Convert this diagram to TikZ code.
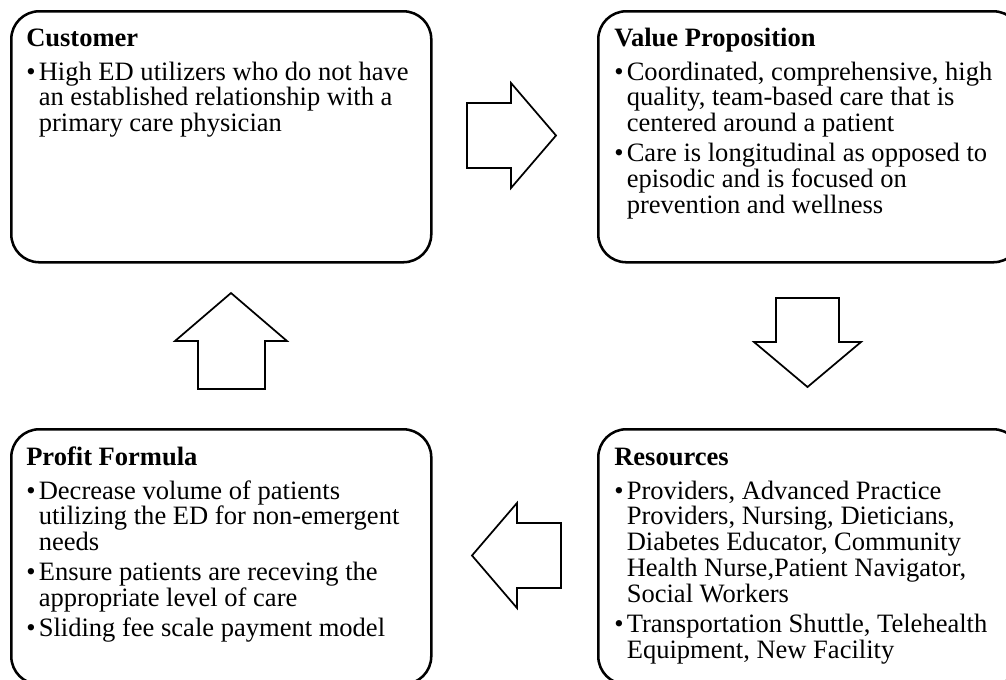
\documentclass[tikz,border=0pt]{standalone}
\usepackage{fontspec}
\setmainfont{Liberation Serif}
\newcommand\bul{\makebox[9.4pt][l]{•}}
\newcommand\ind{\hspace*{9.4pt}}
\newcommand\txtsetup{\fontsize{19.9}{19.35}\selectfont\raggedright\parindent0pt}
\tikzset{
  bmcbox/.style={draw=black, line width=1.9pt, rounded corners=21pt, fill=white},
  blockarrow/.style={draw=black, line width=1.3pt, fill=white, line join=miter},
  bmctext/.style={inner sep=0pt, anchor=base west, text=black}
}
\begin{document}
\begin{tikzpicture}[x=0.75pt, y=-0.75pt]
\useasboundingbox (0,0) rectangle (1006,679);
\fill[white] (0,0) rectangle (1006,679);
\clip (0,0) rectangle (1006,679);
% boxes
\node[bmcbox, anchor=north west, minimum width=315pt, minimum height=188.25pt] (cust) at (10,10) {};
\node[bmcbox, anchor=north west, minimum width=317.25pt, minimum height=188.25pt] (value) at (597,10) {};
\node[bmcbox, anchor=north west, minimum width=315pt, minimum height=191.25pt] (profit) at (10,428) {};
\node[bmcbox, anchor=north west, minimum width=317.25pt, minimum height=191.25pt] (res) at (597,428) {};
% block arrows
\draw[blockarrow] (467,103) -- (511,103) -- (511,83) -- (556,135.5) -- (511,188) -- (511,168) -- (467,168) -- cycle;
\draw[blockarrow] (776,298) -- (839,298) -- (839,342) -- (861,342) -- (807.5,387) -- (754,342) -- (776,342) -- cycle;
\draw[blockarrow] (561,523) -- (517,523) -- (517,503) -- (472,555.5) -- (517,608) -- (517,588) -- (561,588) -- cycle;
\draw[blockarrow] (198,389) -- (198,341) -- (175,341) -- (231,293) -- (287,341) -- (265,341) -- (265,389) -- cycle;
% texts
\node[bmctext] (custt) at (26,46) {\parbox[t]{330pt}{\txtsetup
\textbf{Customer}\\[6.15pt]
\bul High ED utilizers who do not have\\
\ind an established relationship with a\\
\ind primary care physician}};
\node[bmctext] (valuet) at (614,46) {\parbox[t]{330pt}{\txtsetup
\textbf{Value Proposition}\\[6.15pt]
\bul Coordinated, comprehensive, high\\
\ind quality, team-based care that is\\
\ind centered around a patient\\[3.15pt]
\bul Care is longitudinal as opposed to\\
\ind episodic and is focused on\\
\ind prevention and wellness}};
\node[bmctext] (profitt) at (26,465) {\parbox[t]{330pt}{\txtsetup
\textbf{Profit Formula}\\[6.15pt]
\bul Decrease volume of patients\\
\ind utilizing the ED for non-emergent\\
\ind needs\\[3.15pt]
\bul Ensure patients are receving the\\
\ind appropriate level of care\\[3.15pt]
\bul Sliding fee scale payment model}};
\node[bmctext] (rest) at (614,465) {\parbox[t]{330pt}{\txtsetup
\textbf{Resources}\\[6.15pt]
\bul Providers, Advanced Practice\\
\ind Providers, Nursing, Dieticians,\\
\ind Diabetes Educator, Community\\
\ind Health Nurse,Patient Navigator,\\
\ind Social Workers\\[3.15pt]
\bul Transportation Shuttle, Telehealth\\
\ind Equipment, New Facility}};
\end{tikzpicture}
\end{document}
